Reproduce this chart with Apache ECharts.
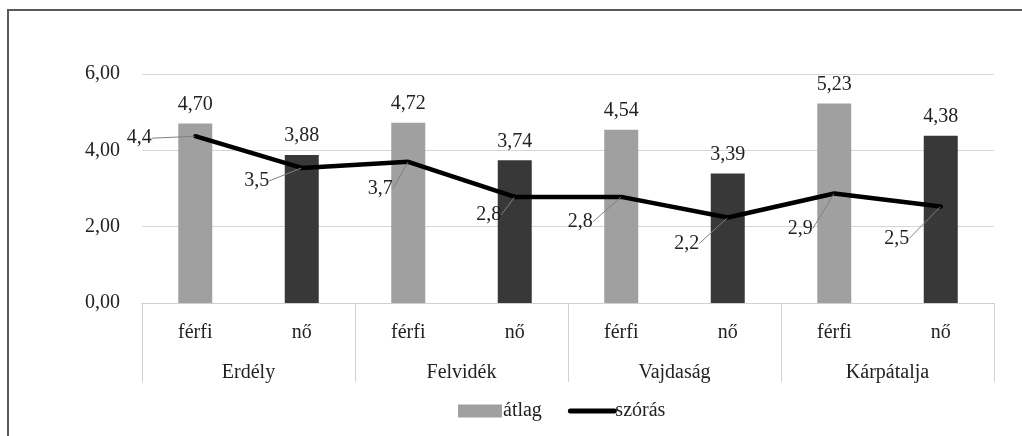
<!DOCTYPE html>
<html>
<head>
<meta charset="utf-8">
<script src="https://cdn.jsdelivr.net/npm/echarts@6/dist/echarts.min.js"></script>
<style>
  html, body { margin: 0; padding: 0; background: #fff; }
  #chart { width: 1022px; height: 436px; }
</style>
</head>
<body>
<div id="chart"></div>
<script>
// data
var genders = ['férfi', 'nő', 'férfi', 'nő', 'férfi', 'nő', 'férfi', 'nő'];
var regions = ['Erdély', 'Felvidék', 'Vajdaság', 'Kárpátalja'];
var atlag = [4.70, 3.88, 4.72, 3.74, 4.54, 3.39, 5.23, 4.38];
var szoras = [4.37, 3.54, 3.70, 2.78, 2.78, 2.24, 2.87, 2.53];
var yTicks = [0, 2, 4, 6];

// label offsets for the callouts of the line (style only)
var calloutShift = [[-56, 2], [-45, 13], [-28, 27], [-26, 18], [-41, 25], [-41, 26], [-34, 35], [-44, 32]];

var FONT = '"Liberation Serif", "DejaVu Serif", serif';
var FS = 20;
var lightBar = '#a0a0a0';
var darkBar = '#383838';

function comma(v, d) { return (Math.round(v * Math.pow(10, d)) / Math.pow(10, d)).toFixed(d).replace('.', ','); }

var chart = echarts.init(document.getElementById('chart'), null, { renderer: 'canvas' });

chart.setOption({
  animation: false,
  textStyle: { fontFamily: FONT },
  graphic: [{
    type: 'rect',
    shape: { x: 8, y: 10, width: 1100, height: 500 },
    style: { fill: 'none', stroke: '#595959', lineWidth: 2 },
    silent: true
  }],
  grid: { left: 142, right: 28, top: 74, bottom: 133 },
  legend: {
    top: 396,
    left: 453,
    itemGap: 26,
    itemWidth: 44,
    itemHeight: 13,
    textStyle: { fontFamily: FONT, fontSize: FS, color: '#222', padding: [0, 0, 0, -4] },
    data: [
      { name: 'átlag', icon: 'rect', itemStyle: { color: lightBar } },
      { name: 'szórás', itemStyle: { opacity: 0 }, lineStyle: { width: 5, cap: 'round', color: '#000' } }
    ]
  },
  xAxis: [{
    type: 'category',
    data: genders,
    position: 'bottom',
    axisLine: { show: true, lineStyle: { color: '#d0d0d0', width: 1 } },
    axisTick: { show: false },
    axisLabel: { fontFamily: FONT, fontSize: FS, color: '#222', margin: 20, interval: 0 }
  }, {
    type: 'category',
    data: regions,
    position: 'bottom',
    axisLine: { show: false },
    axisTick: { show: true, length: 79, interval: 0, lineStyle: { color: '#d0d0d0' } },
    axisLabel: { fontFamily: FONT, fontSize: FS, color: '#222', margin: 60, interval: 0 }
  }],
  yAxis: {
    type: 'value',
    min: 0,
    max: yTicks[yTicks.length - 1],
    interval: 2,
    axisLine: { show: false },
    axisTick: { show: false },
    splitLine: { lineStyle: { color: '#d6d6d6', width: 1 } },
    axisLabel: {
      fontFamily: FONT, fontSize: FS, color: '#222', margin: 22,
      formatter: function (v) { return comma(v, 2); }
    }
  },
  series: [{
    name: 'átlag',
    type: 'bar',
    barWidth: 34,
    data: atlag.map(function (v, i) {
      return { value: v, itemStyle: { color: i % 2 === 0 ? lightBar : darkBar } };
    }),
    label: {
      show: true,
      position: 'top',
      distance: 9,
      fontFamily: FONT,
      fontSize: FS,
      color: '#222',
      formatter: function (p) { return comma(p.value, 2); }
    },
    z: 2
  }, {
    name: 'szórás',
    type: 'line',
    data: szoras,
    symbol: 'circle',
    symbolSize: 1,
    showSymbol: true,
    color: '#000',
    itemStyle: { color: '#000' },
    lineStyle: { color: '#000', width: 4.5, cap: 'round', join: 'round' },
    label: {
      show: true,
      position: 'inside',
      fontFamily: FONT,
      fontSize: FS,
      color: '#222',
      formatter: function (p) { return comma(p.value, 1); }
    },
    labelLine: { show: true, lineStyle: { color: '#808080', width: 1 } },
    labelLayout: function (p) {
      var s = calloutShift[p.dataIndex];
      return { dx: s[0], dy: s[1], hideOverlap: false };
    },
    z: 3
  }]
});
</script>
</body>
</html>
